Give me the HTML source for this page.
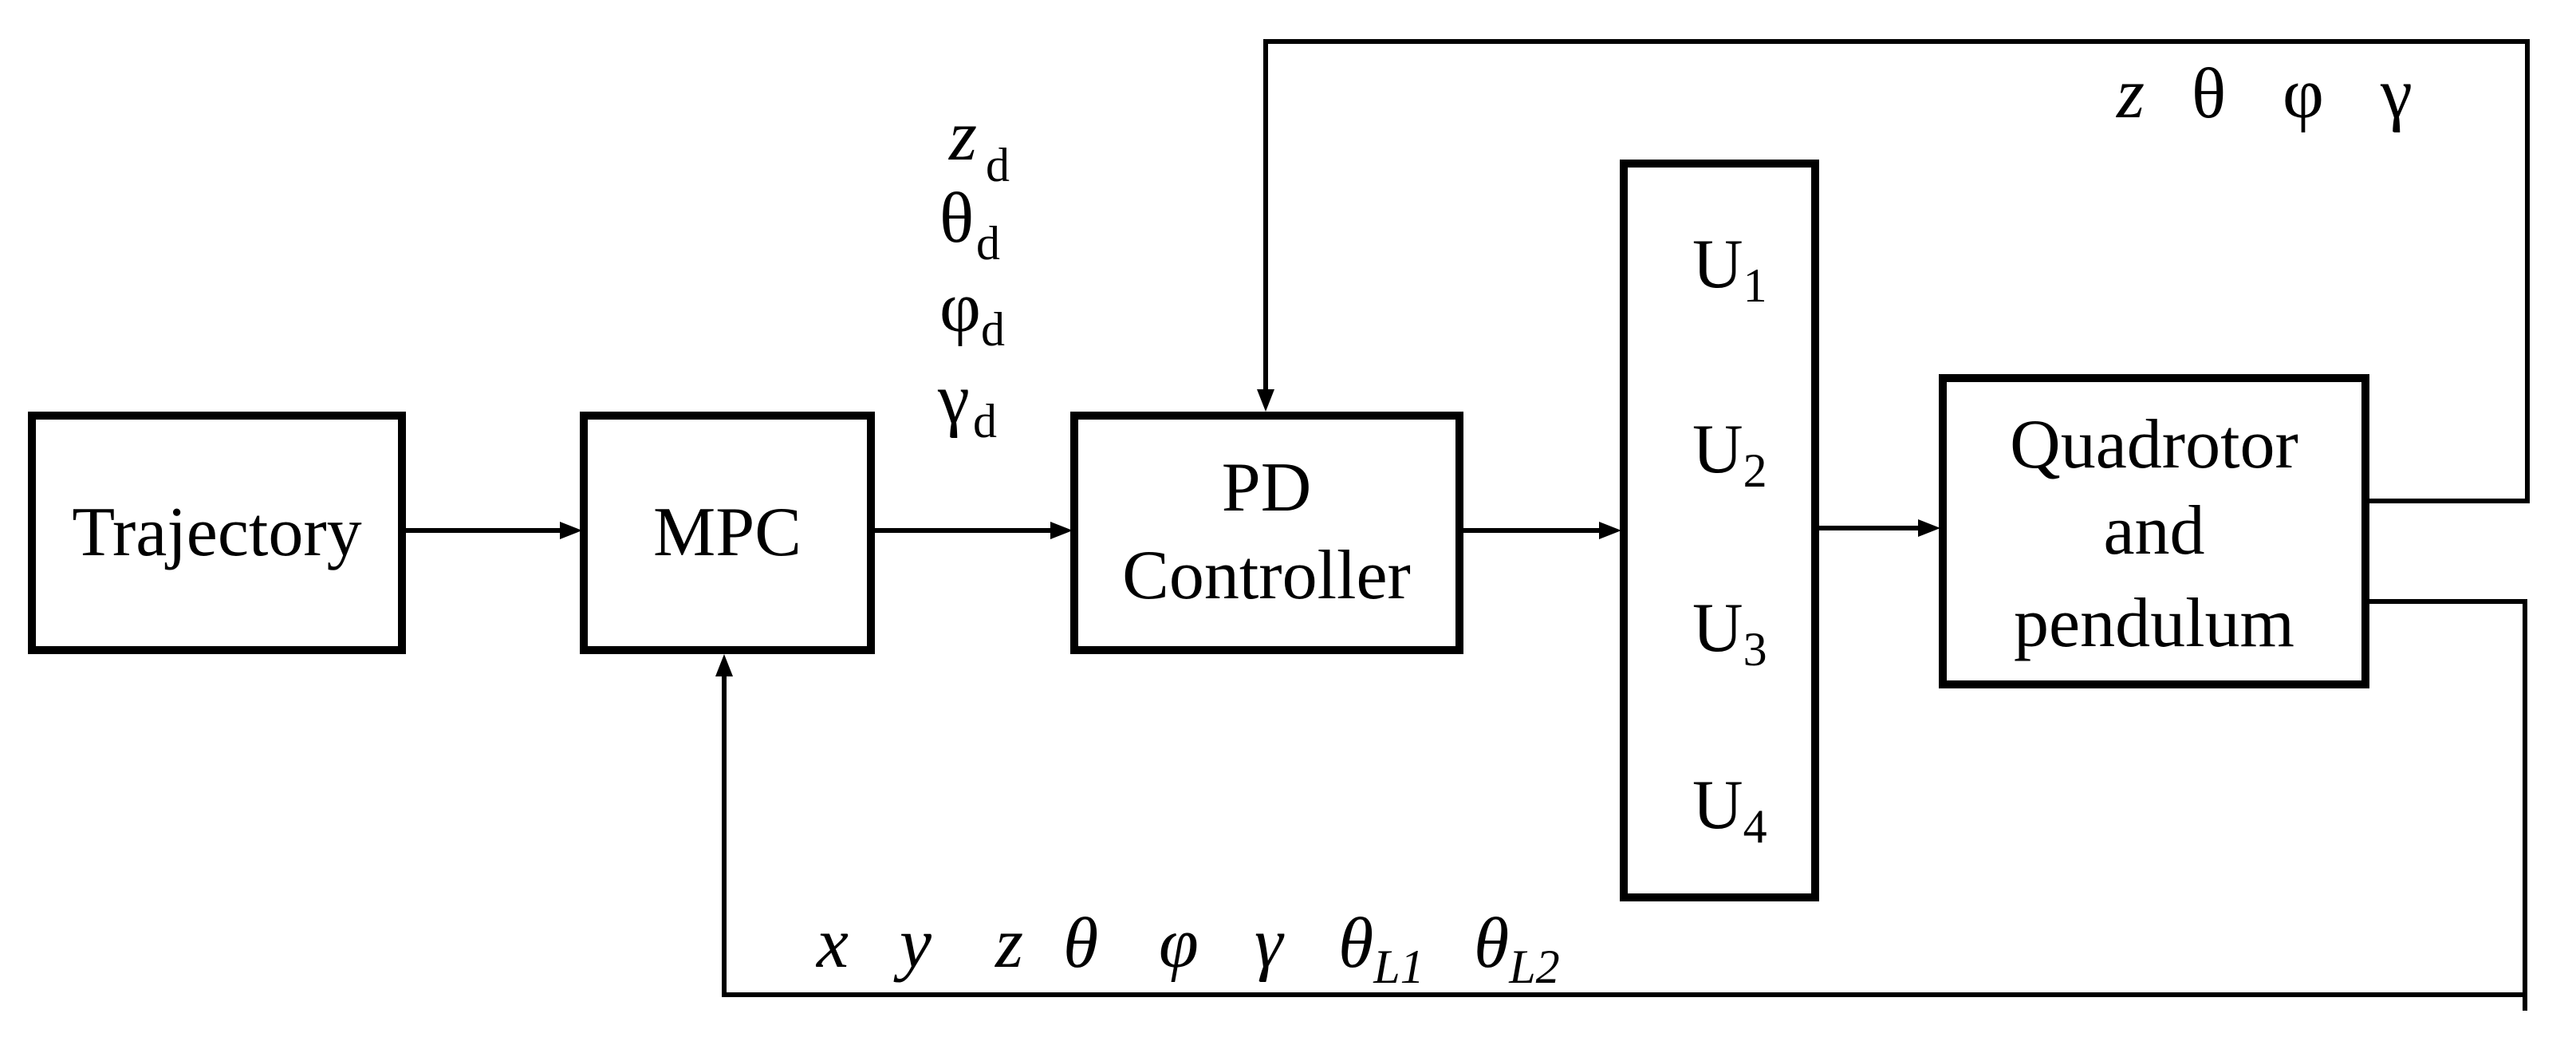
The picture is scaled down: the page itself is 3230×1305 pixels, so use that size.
<!DOCTYPE html>
<html><head><meta charset="utf-8"><style>
html,body{margin:0;padding:0;background:#fff;}
svg{display:block;}
text{font-family:"Liberation Serif",serif;fill:#000;}
</style></head><body>
<svg width="3230" height="1305" viewBox="0 0 3230 1305" xmlns="http://www.w3.org/2000/svg">
<g fill="none" stroke="#000" stroke-width="10">
<rect x="40" y="521" width="464" height="294"/>
<rect x="732" y="521" width="360" height="294"/>
<rect x="1347" y="521" width="483" height="294"/>
<rect x="2036" y="205" width="240" height="920"/>
<rect x="2436" y="474" width="530" height="384"/>
</g>
<g fill="none" stroke="#000" stroke-width="6">
<line x1="509" y1="665" x2="705" y2="665"/>
<line x1="1097" y1="665" x2="1320" y2="665"/>
<line x1="1835" y1="665" x2="2008" y2="665"/>
<line x1="2281" y1="662" x2="2408" y2="662"/>
<polyline points="2971,628 3169,628 3169,52 1587,52 1587,490"/>
<polyline points="2971,754 3166,754 3166,1267"/>
<polyline points="3169,1247 908,1247 908,845"/>
</g>
<g fill="#000">
<polygon points="730,665 702,654 702,676"/>
<polygon points="1345,665 1317,654 1317,676"/>
<polygon points="2033,665 2005,654 2005,676"/>
<polygon points="2433,662 2405,651 2405,673"/>
<polygon points="1587,516 1576,488 1598,488"/>
<polygon points="908,820 897,848 919,848"/>
</g>
<g font-size="88" text-anchor="middle">
<text x="272" y="696">Trajectory</text>
<text x="912" y="696">MPC</text>
<text x="1588" y="640">PD</text>
<text x="1588" y="750">Controller</text>
<text x="2701" y="586">Quadrotor</text>
<text x="2701" y="694">and</text>
<text x="2701" y="810">pendulum</text>
</g>
<g font-size="88">
<text x="2122" y="360">U<tspan font-size="60" dy="18">1</tspan></text>
<text x="2122" y="592">U<tspan font-size="60" dy="18">2</tspan></text>
<text x="2122" y="816">U<tspan font-size="60" dy="18">3</tspan></text>
<text x="2122" y="1038">U<tspan font-size="60" dy="18">4</tspan></text>
</g>
<g font-size="90">
<text x="1190" y="200" font-style="italic">z</text><text x="1236" y="227" font-size="60">d</text>
<text x="1178" y="303">θ</text><text x="1224" y="325" font-size="60">d</text>
<text x="1178" y="415">φ</text><text x="1230" y="433" font-size="60">d</text>
<text x="1176" y="530">γ</text><text x="1220" y="548" font-size="60">d</text>
<text x="2654" y="147" font-style="italic">z</text>
<text x="2748" y="147">θ</text>
<text x="2862" y="147">φ</text>
<text x="2985" y="147">γ</text>
</g>
<g font-size="90" font-style="italic">
<text x="1024" y="1212">x</text>
<text x="1128" y="1212">y</text>
<text x="1248" y="1212">z</text>
<text x="1333" y="1212">θ</text>
<text x="1453" y="1212">φ</text>
<text x="1573" y="1212">γ</text>
<text x="1678" y="1212">θ<tspan font-size="60" dy="20">L1</tspan></text>
<text x="1848" y="1212">θ<tspan font-size="60" dy="20">L2</tspan></text>
</g>
</svg>
</body></html>
